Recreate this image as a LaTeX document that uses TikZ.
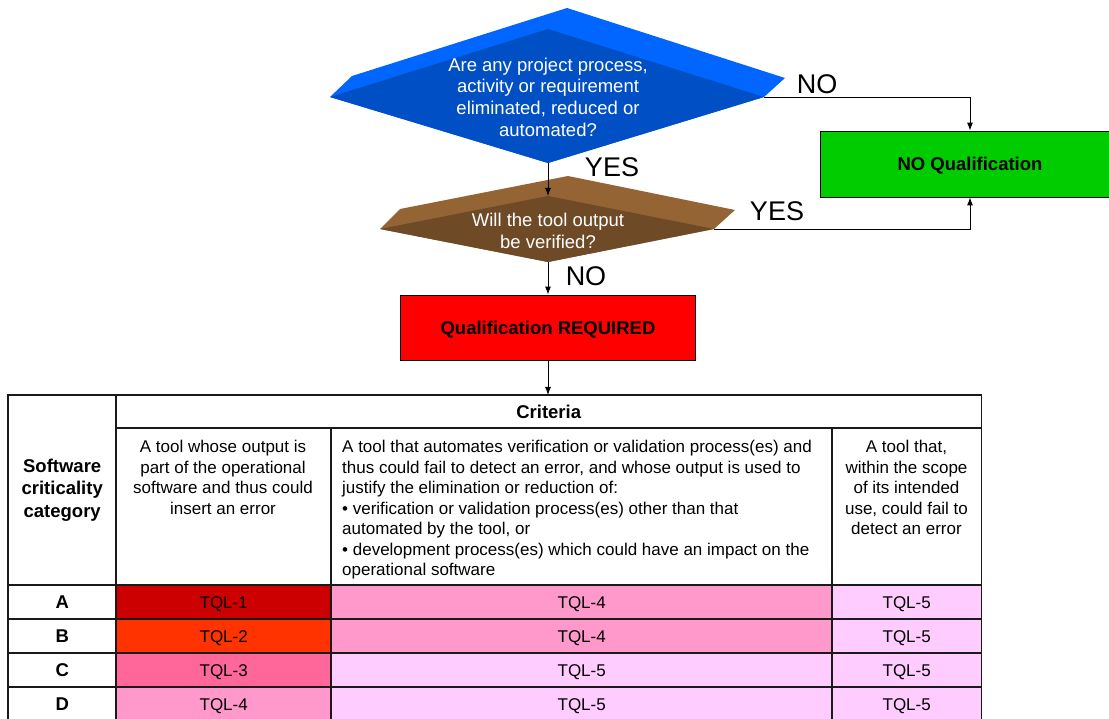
\documentclass[tikz,border=0pt]{standalone}
\usepackage{fontspec}
\setmainfont{Liberation Sans}
\usetikzlibrary{arrows.meta}
\definecolor{blueL}{HTML}{0066FF}
\definecolor{blueD}{HTML}{004FC4}
\definecolor{brownL}{HTML}{946434}
\definecolor{brownD}{HTML}{6E4A27}
\definecolor{tqlA}{HTML}{CC0000}
\definecolor{tqlB}{HTML}{FF3300}
\definecolor{tqlC}{HTML}{FF6699}
\definecolor{tqlD}{HTML}{FF99CC}
\definecolor{tqlE}{HTML}{FFCCFF}
\definecolor{boxG}{HTML}{00CC00}
\definecolor{gridc}{HTML}{1A1A1A}
\begin{document}
\begin{tikzpicture}[x=1pt,y=-1pt,
  flow/.style={draw=black, line width=0.9pt, -{Latex[length=8pt,width=6pt]}},
  lbl/.style={font=\fontsize{27}{30}\selectfont, inner sep=0},
  qtext/.style={text=white, align=center, inner sep=0, font=\fontsize{18.5}{21.7}\selectfont},
  resbox/.style={draw=black, line width=0.8pt, inner sep=0, font=\bfseries\fontsize{18.5}{22}\selectfont},
  tcell/.style={inner sep=0, anchor=north west},
  gridline/.style={draw=gridc, line width=1.3pt},
  ttext/.style={inner sep=0, font=\fontsize{17}{20.5}\selectfont},
  tbold/.style={inner sep=0, font=\bfseries\fontsize{18.5}{22.5}\selectfont},
]
\useasboundingbox (0,0) rectangle (1109,719);

% top decision
\fill[blueL] (330,97) -- (352,76) -- (567,8) -- (785,78) -- (764,97) -- (548,163) -- cycle;
\fill[blueD] (330,97) -- (548,29) -- (764,97) -- (548,163) -- cycle;
\coordinate (q1b) at (548,163);
\coordinate (q1r) at (764,97);
\node[qtext] (q1) at (548,97) {Are any project process,\\activity or requirement\\eliminated, reduced or\\automated?};

% second decision
\fill[brownL] (380,229) -- (400,209) -- (568,176) -- (735,210) -- (714,229) -- (548,262) -- cycle;
\fill[brownD] (380,229) -- (548,196) -- (714,229) -- (548,262) -- cycle;
\coordinate (q2t) at (548,196);
\coordinate (q2b) at (548,262);
\coordinate (q2r) at (714,229);
\node[qtext] (q2) at (548,231) {Will the tool output\\be verified?};

% result boxes
\node[resbox, fill=red, minimum width=295pt, minimum height=65pt] (req) at (548,327.5) {};
\node[resbox, fill=boxG, minimum width=300pt, minimum height=66pt] (noq) at (970,164) {};
\node[resbox, draw=none, yshift=-2pt] (reqT) at (req) {Qualification REQUIRED};
\node[resbox, draw=none, yshift=-2pt] (noqT) at (noq) {NO Qualification};

% table cells (fills)
\node[tcell, fill=white, minimum width=108pt, minimum height=190pt] (cat) at (8,395) {};
\node[tcell, fill=white, minimum width=865pt, minimum height=33pt] (crit) at (116,395) {};
\node[tcell, fill=white, minimum width=215pt, minimum height=157pt] (d1) at (116,428) {};
\node[tcell, fill=white, minimum width=501pt, minimum height=157pt] (d2) at (331,428) {};
\node[tcell, fill=white, minimum width=149pt, minimum height=157pt] (d3) at (832,428) {};
\foreach \L/\y/\ca/\ta/\cb/\tb/\cc/\tc in {
  A/585/tqlA/TQL-1/tqlD/TQL-4/tqlE/TQL-5,
  B/619/tqlB/TQL-2/tqlD/TQL-4/tqlE/TQL-5,
  C/653/tqlC/TQL-3/tqlE/TQL-5/tqlE/TQL-5,
  D/687/tqlD/TQL-4/tqlE/TQL-5/tqlE/TQL-5}{
  \node[tcell, fill=white, minimum width=108pt, minimum height=34pt] (r\L0) at (8,\y) {};
  \node[tcell, fill=\ca, minimum width=215pt, minimum height=34pt] (r\L1) at (116,\y) {};
  \node[tcell, fill=\cb, minimum width=501pt, minimum height=34pt] (r\L2) at (331,\y) {};
  \node[tcell, fill=\cc, minimum width=149pt, minimum height=34pt] (r\L3) at (832,\y) {};
  \node[tbold] (t\L0) at (r\L0) {\L};
  \node[ttext, yshift=-1.5pt] (t\L1) at (r\L1) {\ta};
  \node[ttext, yshift=-1.5pt] (t\L2) at (r\L2) {\tb};
  \node[ttext, yshift=-1.5pt] (t\L3) at (r\L3) {\tc};
}
% table grid lines
\foreach \n in {cat,crit,d1,d2,d3,rA0,rA1,rA2,rA3,rB0,rB1,rB2,rB3,rC0,rC1,rC2,rC3,rD0,rD1,rD2,rD3}{
  \draw[gridline] (\n.north west) rectangle (\n.south east);
}
\node[tbold, align=center] (catT) at (cat) {Software\\criticality\\category};
\node[tbold] (critT) at (crit) {Criteria};
\node[ttext, align=center, anchor=north] (d1T) at (223,440) {A tool whose output is\\part of the operational\\software and thus could\\insert an error};
\node[ttext, align=left, anchor=north west] (d2T) at (342,440) {A tool that automates verification or validation process(es) and\\thus could fail to detect an error, and whose output is used to\\justify the elimination or reduction of:\\• verification or validation process(es) other than that\\automated by the tool, or\\• development process(es) which could have an impact on the\\operational software};
\node[ttext, align=center, anchor=north] (d3T) at (906.5,440) {A tool that,\\within the scope\\of its intended\\use, could fail to\\detect an error};

% connectors
\draw[flow] (q1b) -- (q2t);
\draw[flow] (q2b) -- (req.north);
\draw[flow] (q1r) -| (noq.north);
\draw[flow] (q2r) -| (noq.south);
\draw[flow] (req.south) -- (req.south |- crit.north);

% labels
\node[lbl] (yes1) at (612,167) {YES};
\node[lbl] (no1) at (817,84) {NO};
\node[lbl] (yes2) at (777,211) {YES};
\node[lbl] (no2) at (586,276) {NO};
\end{tikzpicture}
\end{document}
